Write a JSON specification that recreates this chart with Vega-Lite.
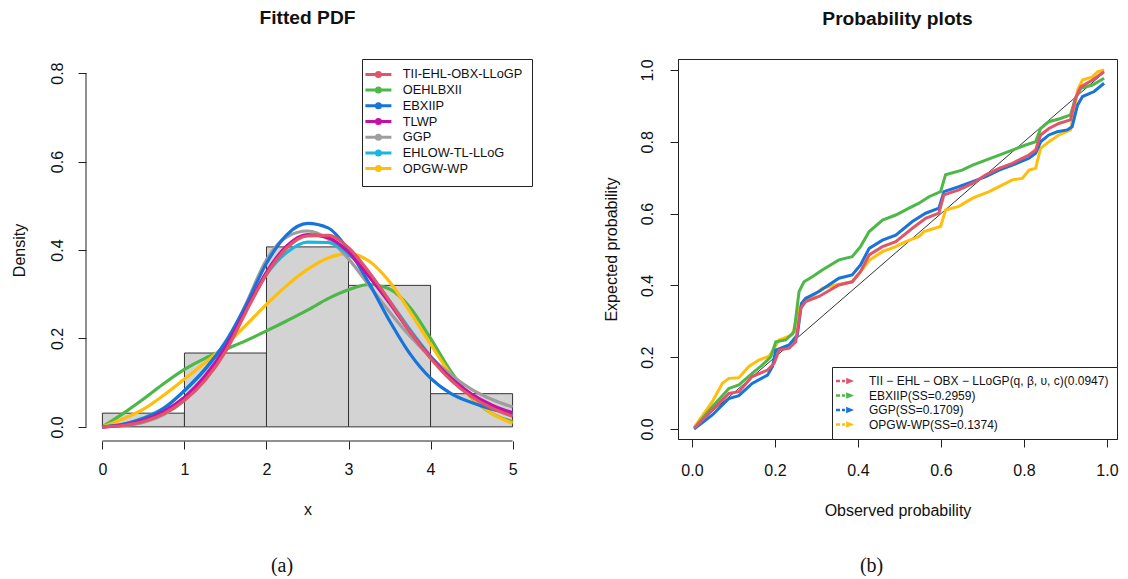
{
  "$schema": "https://vega.github.io/schema/vega-lite/v6.json",
  "background": "white",
  "padding": {"left": 11, "top": 9, "right": 5, "bottom": 0},
  "config": {
    "font": "Liberation Sans",
    "view": {"stroke": null},
    "axis": {"grid": false, "domainColor": "#222", "tickColor": "#222", "tickSize": 8, "labelFontSize": 16, "titleFontSize": 16, "titleFontWeight": "normal", "labelColor": "#111", "titleColor": "#111", "labelFont": "Liberation Sans", "titleFont": "Liberation Sans", "labelFlush": false, "labelOverlap": false},
    "axisX": {"labelPadding": 14, "titlePadding": 24},
    "axisY": {"labelAngle": -90, "labelAlign": "center", "labelBaseline": "middle", "labelPadding": 22, "titlePadding": 22},
    "title": {"font": "Liberation Sans", "color": "#111"},
    "legend": {"labelFont": "Liberation Sans", "labelColor": "#111", "strokeColor": "#222", "fillColor": "white", "labelLimit": 0}
  },
  "resolve": {"scale": {"color": "independent"}, "legend": {"color": "independent"}},
  "spacing": 69,
  "datasets": {
    "hist": [
      {"x0": 0, "x1": 1, "d": 0.031},
      {"x0": 1, "x1": 2, "d": 0.167},
      {"x0": 2, "x1": 3, "d": 0.407},
      {"x0": 3, "x1": 4, "d": 0.32},
      {"x0": 4, "x1": 5, "d": 0.075}
    ],
    "pdf": [
      {"m": "OEHLBXII", "x": 0, "y": 0}, {"m": "OEHLBXII", "x": 0.25, "y": 0.03}, {"m": "OEHLBXII", "x": 0.5, "y": 0.063}, {"m": "OEHLBXII", "x": 0.75, "y": 0.098}, {"m": "OEHLBXII", "x": 1, "y": 0.13}, {"m": "OEHLBXII", "x": 1.25, "y": 0.155}, {"m": "OEHLBXII", "x": 1.5, "y": 0.175}, {"m": "OEHLBXII", "x": 1.75, "y": 0.195}, {"m": "OEHLBXII", "x": 2, "y": 0.217}, {"m": "OEHLBXII", "x": 2.25, "y": 0.24}, {"m": "OEHLBXII", "x": 2.5, "y": 0.264}, {"m": "OEHLBXII", "x": 2.75, "y": 0.29}, {"m": "OEHLBXII", "x": 3, "y": 0.31}, {"m": "OEHLBXII", "x": 3.25, "y": 0.322}, {"m": "OEHLBXII", "x": 3.5, "y": 0.312}, {"m": "OEHLBXII", "x": 3.75, "y": 0.27}, {"m": "OEHLBXII", "x": 4, "y": 0.2}, {"m": "OEHLBXII", "x": 4.25, "y": 0.125}, {"m": "OEHLBXII", "x": 4.5, "y": 0.066}, {"m": "OEHLBXII", "x": 4.75, "y": 0.03}, {"m": "OEHLBXII", "x": 5, "y": 0.012},
      {"m": "OPGW-WP", "x": 0, "y": 0}, {"m": "OPGW-WP", "x": 0.25, "y": 0.018}, {"m": "OPGW-WP", "x": 0.5, "y": 0.04}, {"m": "OPGW-WP", "x": 0.75, "y": 0.072}, {"m": "OPGW-WP", "x": 1, "y": 0.108}, {"m": "OPGW-WP", "x": 1.25, "y": 0.145}, {"m": "OPGW-WP", "x": 1.5, "y": 0.185}, {"m": "OPGW-WP", "x": 1.75, "y": 0.23}, {"m": "OPGW-WP", "x": 2, "y": 0.277}, {"m": "OPGW-WP", "x": 2.25, "y": 0.32}, {"m": "OPGW-WP", "x": 2.5, "y": 0.356}, {"m": "OPGW-WP", "x": 2.75, "y": 0.382}, {"m": "OPGW-WP", "x": 3, "y": 0.392}, {"m": "OPGW-WP", "x": 3.25, "y": 0.375}, {"m": "OPGW-WP", "x": 3.5, "y": 0.328}, {"m": "OPGW-WP", "x": 3.75, "y": 0.26}, {"m": "OPGW-WP", "x": 4, "y": 0.187}, {"m": "OPGW-WP", "x": 4.25, "y": 0.118}, {"m": "OPGW-WP", "x": 4.5, "y": 0.066}, {"m": "OPGW-WP", "x": 4.75, "y": 0.03}, {"m": "OPGW-WP", "x": 5, "y": 0.008},
      {"m": "GGP", "x": 0, "y": 0}, {"m": "GGP", "x": 0.25, "y": 0.003}, {"m": "GGP", "x": 0.5, "y": 0.01}, {"m": "GGP", "x": 0.75, "y": 0.028}, {"m": "GGP", "x": 1, "y": 0.06}, {"m": "GGP", "x": 1.25, "y": 0.11}, {"m": "GGP", "x": 1.5, "y": 0.182}, {"m": "GGP", "x": 1.75, "y": 0.278}, {"m": "GGP", "x": 2, "y": 0.378}, {"m": "GGP", "x": 2.25, "y": 0.43}, {"m": "GGP", "x": 2.5, "y": 0.443}, {"m": "GGP", "x": 2.75, "y": 0.425}, {"m": "GGP", "x": 3, "y": 0.38}, {"m": "GGP", "x": 3.25, "y": 0.32}, {"m": "GGP", "x": 3.5, "y": 0.26}, {"m": "GGP", "x": 3.75, "y": 0.205}, {"m": "GGP", "x": 4, "y": 0.158}, {"m": "GGP", "x": 4.25, "y": 0.118}, {"m": "GGP", "x": 4.5, "y": 0.085}, {"m": "GGP", "x": 4.75, "y": 0.062}, {"m": "GGP", "x": 5, "y": 0.045},
      {"m": "EHLOW-TL-LLoG", "x": 0, "y": 0}, {"m": "EHLOW-TL-LLoG", "x": 0.25, "y": 0.006}, {"m": "EHLOW-TL-LLoG", "x": 0.5, "y": 0.02}, {"m": "EHLOW-TL-LLoG", "x": 0.75, "y": 0.043}, {"m": "EHLOW-TL-LLoG", "x": 1, "y": 0.082}, {"m": "EHLOW-TL-LLoG", "x": 1.25, "y": 0.13}, {"m": "EHLOW-TL-LLoG", "x": 1.5, "y": 0.19}, {"m": "EHLOW-TL-LLoG", "x": 1.75, "y": 0.265}, {"m": "EHLOW-TL-LLoG", "x": 2, "y": 0.345}, {"m": "EHLOW-TL-LLoG", "x": 2.25, "y": 0.395}, {"m": "EHLOW-TL-LLoG", "x": 2.5, "y": 0.418}, {"m": "EHLOW-TL-LLoG", "x": 2.75, "y": 0.417}, {"m": "EHLOW-TL-LLoG", "x": 3, "y": 0.39}, {"m": "EHLOW-TL-LLoG", "x": 3.25, "y": 0.345}, {"m": "EHLOW-TL-LLoG", "x": 3.5, "y": 0.285}, {"m": "EHLOW-TL-LLoG", "x": 3.75, "y": 0.22}, {"m": "EHLOW-TL-LLoG", "x": 4, "y": 0.16}, {"m": "EHLOW-TL-LLoG", "x": 4.25, "y": 0.11}, {"m": "EHLOW-TL-LLoG", "x": 4.5, "y": 0.072}, {"m": "EHLOW-TL-LLoG", "x": 4.75, "y": 0.046}, {"m": "EHLOW-TL-LLoG", "x": 5, "y": 0.029},
      {"m": "EBXIIP", "x": 0, "y": 0}, {"m": "EBXIIP", "x": 0.25, "y": 0.006}, {"m": "EBXIIP", "x": 0.5, "y": 0.019}, {"m": "EBXIIP", "x": 0.75, "y": 0.042}, {"m": "EBXIIP", "x": 1, "y": 0.082}, {"m": "EBXIIP", "x": 1.25, "y": 0.13}, {"m": "EBXIIP", "x": 1.5, "y": 0.192}, {"m": "EBXIIP", "x": 1.75, "y": 0.275}, {"m": "EBXIIP", "x": 2, "y": 0.37}, {"m": "EBXIIP", "x": 2.25, "y": 0.435}, {"m": "EBXIIP", "x": 2.5, "y": 0.46}, {"m": "EBXIIP", "x": 2.75, "y": 0.45}, {"m": "EBXIIP", "x": 3, "y": 0.4}, {"m": "EBXIIP", "x": 3.25, "y": 0.325}, {"m": "EBXIIP", "x": 3.5, "y": 0.24}, {"m": "EBXIIP", "x": 3.75, "y": 0.165}, {"m": "EBXIIP", "x": 4, "y": 0.11}, {"m": "EBXIIP", "x": 4.25, "y": 0.075}, {"m": "EBXIIP", "x": 4.5, "y": 0.055}, {"m": "EBXIIP", "x": 4.75, "y": 0.04}, {"m": "EBXIIP", "x": 5, "y": 0.03},
      {"m": "TLWP", "x": 0, "y": 0}, {"m": "TLWP", "x": 0.25, "y": 0.004}, {"m": "TLWP", "x": 0.5, "y": 0.015}, {"m": "TLWP", "x": 0.75, "y": 0.035}, {"m": "TLWP", "x": 1, "y": 0.067}, {"m": "TLWP", "x": 1.25, "y": 0.115}, {"m": "TLWP", "x": 1.5, "y": 0.18}, {"m": "TLWP", "x": 1.75, "y": 0.265}, {"m": "TLWP", "x": 2, "y": 0.35}, {"m": "TLWP", "x": 2.25, "y": 0.41}, {"m": "TLWP", "x": 2.5, "y": 0.435}, {"m": "TLWP", "x": 2.75, "y": 0.428}, {"m": "TLWP", "x": 3, "y": 0.395}, {"m": "TLWP", "x": 3.25, "y": 0.34}, {"m": "TLWP", "x": 3.5, "y": 0.28}, {"m": "TLWP", "x": 3.75, "y": 0.215}, {"m": "TLWP", "x": 4, "y": 0.158}, {"m": "TLWP", "x": 4.25, "y": 0.11}, {"m": "TLWP", "x": 4.5, "y": 0.074}, {"m": "TLWP", "x": 4.75, "y": 0.049}, {"m": "TLWP", "x": 5, "y": 0.032},
      {"m": "TII-EHL-OBX-LLoGP", "x": 0, "y": 0}, {"m": "TII-EHL-OBX-LLoGP", "x": 0.25, "y": 0.003}, {"m": "TII-EHL-OBX-LLoGP", "x": 0.5, "y": 0.012}, {"m": "TII-EHL-OBX-LLoGP", "x": 0.75, "y": 0.03}, {"m": "TII-EHL-OBX-LLoGP", "x": 1, "y": 0.06}, {"m": "TII-EHL-OBX-LLoGP", "x": 1.25, "y": 0.105}, {"m": "TII-EHL-OBX-LLoGP", "x": 1.5, "y": 0.17}, {"m": "TII-EHL-OBX-LLoGP", "x": 1.75, "y": 0.26}, {"m": "TII-EHL-OBX-LLoGP", "x": 2, "y": 0.345}, {"m": "TII-EHL-OBX-LLoGP", "x": 2.25, "y": 0.405}, {"m": "TII-EHL-OBX-LLoGP", "x": 2.5, "y": 0.432}, {"m": "TII-EHL-OBX-LLoGP", "x": 2.75, "y": 0.433}, {"m": "TII-EHL-OBX-LLoGP", "x": 3, "y": 0.405}, {"m": "TII-EHL-OBX-LLoGP", "x": 3.25, "y": 0.35}, {"m": "TII-EHL-OBX-LLoGP", "x": 3.5, "y": 0.285}, {"m": "TII-EHL-OBX-LLoGP", "x": 3.75, "y": 0.215}, {"m": "TII-EHL-OBX-LLoGP", "x": 4, "y": 0.155}, {"m": "TII-EHL-OBX-LLoGP", "x": 4.25, "y": 0.105}, {"m": "TII-EHL-OBX-LLoGP", "x": 4.5, "y": 0.068}, {"m": "TII-EHL-OBX-LLoGP", "x": 4.75, "y": 0.042}, {"m": "TII-EHL-OBX-LLoGP", "x": 5, "y": 0.024}
    ],
    "diag": [{"x": 0.008, "y": 0.008}, {"x": 0.992, "y": 0.992}],
    "pp": [
      {"m": "OPGW-WP(SS=0.1374)", "x": 0.005, "y": 0.004}, {"m": "OPGW-WP(SS=0.1374)", "x": 0.049, "y": 0.076}, {"m": "OPGW-WP(SS=0.1374)", "x": 0.073, "y": 0.127}, {"m": "OPGW-WP(SS=0.1374)", "x": 0.089, "y": 0.141}, {"m": "OPGW-WP(SS=0.1374)", "x": 0.113, "y": 0.143}, {"m": "OPGW-WP(SS=0.1374)", "x": 0.137, "y": 0.174}, {"m": "OPGW-WP(SS=0.1374)", "x": 0.161, "y": 0.192}, {"m": "OPGW-WP(SS=0.1374)", "x": 0.186, "y": 0.203}, {"m": "OPGW-WP(SS=0.1374)", "x": 0.198, "y": 0.225}, {"m": "OPGW-WP(SS=0.1374)", "x": 0.21, "y": 0.248}, {"m": "OPGW-WP(SS=0.1374)", "x": 0.242, "y": 0.262}, {"m": "OPGW-WP(SS=0.1374)", "x": 0.258, "y": 0.336}, {"m": "OPGW-WP(SS=0.1374)", "x": 0.27, "y": 0.359}, {"m": "OPGW-WP(SS=0.1374)", "x": 0.29, "y": 0.369}, {"m": "OPGW-WP(SS=0.1374)", "x": 0.314, "y": 0.392}, {"m": "OPGW-WP(SS=0.1374)", "x": 0.346, "y": 0.401}, {"m": "OPGW-WP(SS=0.1374)", "x": 0.386, "y": 0.41}, {"m": "OPGW-WP(SS=0.1374)", "x": 0.406, "y": 0.438}, {"m": "OPGW-WP(SS=0.1374)", "x": 0.427, "y": 0.47}, {"m": "OPGW-WP(SS=0.1374)", "x": 0.459, "y": 0.494}, {"m": "OPGW-WP(SS=0.1374)", "x": 0.491, "y": 0.508}, {"m": "OPGW-WP(SS=0.1374)", "x": 0.515, "y": 0.522}, {"m": "OPGW-WP(SS=0.1374)", "x": 0.547, "y": 0.536}, {"m": "OPGW-WP(SS=0.1374)", "x": 0.559, "y": 0.55}, {"m": "OPGW-WP(SS=0.1374)", "x": 0.599, "y": 0.564}, {"m": "OPGW-WP(SS=0.1374)", "x": 0.611, "y": 0.61}, {"m": "OPGW-WP(SS=0.1374)", "x": 0.643, "y": 0.62}, {"m": "OPGW-WP(SS=0.1374)", "x": 0.676, "y": 0.643}, {"m": "OPGW-WP(SS=0.1374)", "x": 0.716, "y": 0.661}, {"m": "OPGW-WP(SS=0.1374)", "x": 0.74, "y": 0.675}, {"m": "OPGW-WP(SS=0.1374)", "x": 0.772, "y": 0.694}, {"m": "OPGW-WP(SS=0.1374)", "x": 0.796, "y": 0.698}, {"m": "OPGW-WP(SS=0.1374)", "x": 0.812, "y": 0.721}, {"m": "OPGW-WP(SS=0.1374)", "x": 0.828, "y": 0.726}, {"m": "OPGW-WP(SS=0.1374)", "x": 0.84, "y": 0.782}, {"m": "OPGW-WP(SS=0.1374)", "x": 0.86, "y": 0.8}, {"m": "OPGW-WP(SS=0.1374)", "x": 0.884, "y": 0.819}, {"m": "OPGW-WP(SS=0.1374)", "x": 0.912, "y": 0.833}, {"m": "OPGW-WP(SS=0.1374)", "x": 0.92, "y": 0.875}, {"m": "OPGW-WP(SS=0.1374)", "x": 0.929, "y": 0.944}, {"m": "OPGW-WP(SS=0.1374)", "x": 0.941, "y": 0.972}, {"m": "OPGW-WP(SS=0.1374)", "x": 0.965, "y": 0.981}, {"m": "OPGW-WP(SS=0.1374)", "x": 0.977, "y": 0.995}, {"m": "OPGW-WP(SS=0.1374)", "x": 0.993, "y": 1.0},
      {"m": "EBXIIP(SS=0.2959)", "x": 0.007, "y": 0.004}, {"m": "EBXIIP(SS=0.2959)", "x": 0.049, "y": 0.062}, {"m": "EBXIIP(SS=0.2959)", "x": 0.089, "y": 0.113}, {"m": "EBXIIP(SS=0.2959)", "x": 0.113, "y": 0.123}, {"m": "EBXIIP(SS=0.2959)", "x": 0.145, "y": 0.155}, {"m": "EBXIIP(SS=0.2959)", "x": 0.169, "y": 0.178}, {"m": "EBXIIP(SS=0.2959)", "x": 0.19, "y": 0.201}, {"m": "EBXIIP(SS=0.2959)", "x": 0.202, "y": 0.243}, {"m": "EBXIIP(SS=0.2959)", "x": 0.226, "y": 0.248}, {"m": "EBXIIP(SS=0.2959)", "x": 0.246, "y": 0.271}, {"m": "EBXIIP(SS=0.2959)", "x": 0.258, "y": 0.383}, {"m": "EBXIIP(SS=0.2959)", "x": 0.27, "y": 0.41}, {"m": "EBXIIP(SS=0.2959)", "x": 0.29, "y": 0.424}, {"m": "EBXIIP(SS=0.2959)", "x": 0.314, "y": 0.443}, {"m": "EBXIIP(SS=0.2959)", "x": 0.354, "y": 0.471}, {"m": "EBXIIP(SS=0.2959)", "x": 0.386, "y": 0.48}, {"m": "EBXIIP(SS=0.2959)", "x": 0.406, "y": 0.508}, {"m": "EBXIIP(SS=0.2959)", "x": 0.427, "y": 0.55}, {"m": "EBXIIP(SS=0.2959)", "x": 0.459, "y": 0.582}, {"m": "EBXIIP(SS=0.2959)", "x": 0.491, "y": 0.596}, {"m": "EBXIIP(SS=0.2959)", "x": 0.523, "y": 0.615}, {"m": "EBXIIP(SS=0.2959)", "x": 0.547, "y": 0.629}, {"m": "EBXIIP(SS=0.2959)", "x": 0.571, "y": 0.647}, {"m": "EBXIIP(SS=0.2959)", "x": 0.599, "y": 0.661}, {"m": "EBXIIP(SS=0.2959)", "x": 0.611, "y": 0.708}, {"m": "EBXIIP(SS=0.2959)", "x": 0.651, "y": 0.721}, {"m": "EBXIIP(SS=0.2959)", "x": 0.676, "y": 0.735}, {"m": "EBXIIP(SS=0.2959)", "x": 0.708, "y": 0.749}, {"m": "EBXIIP(SS=0.2959)", "x": 0.74, "y": 0.763}, {"m": "EBXIIP(SS=0.2959)", "x": 0.772, "y": 0.777}, {"m": "EBXIIP(SS=0.2959)", "x": 0.804, "y": 0.791}, {"m": "EBXIIP(SS=0.2959)", "x": 0.828, "y": 0.8}, {"m": "EBXIIP(SS=0.2959)", "x": 0.84, "y": 0.837}, {"m": "EBXIIP(SS=0.2959)", "x": 0.86, "y": 0.856}, {"m": "EBXIIP(SS=0.2959)", "x": 0.888, "y": 0.865}, {"m": "EBXIIP(SS=0.2959)", "x": 0.912, "y": 0.875}, {"m": "EBXIIP(SS=0.2959)", "x": 0.924, "y": 0.921}, {"m": "EBXIIP(SS=0.2959)", "x": 0.937, "y": 0.949}, {"m": "EBXIIP(SS=0.2959)", "x": 0.965, "y": 0.958}, {"m": "EBXIIP(SS=0.2959)", "x": 0.993, "y": 0.977},
      {"m": "GGP(SS=0.1709)", "x": 0.005, "y": 0.0}, {"m": "GGP(SS=0.1709)", "x": 0.049, "y": 0.039}, {"m": "GGP(SS=0.1709)", "x": 0.089, "y": 0.085}, {"m": "GGP(SS=0.1709)", "x": 0.113, "y": 0.093}, {"m": "GGP(SS=0.1709)", "x": 0.145, "y": 0.127}, {"m": "GGP(SS=0.1709)", "x": 0.182, "y": 0.15}, {"m": "GGP(SS=0.1709)", "x": 0.194, "y": 0.174}, {"m": "GGP(SS=0.1709)", "x": 0.202, "y": 0.22}, {"m": "GGP(SS=0.1709)", "x": 0.234, "y": 0.234}, {"m": "GGP(SS=0.1709)", "x": 0.254, "y": 0.262}, {"m": "GGP(SS=0.1709)", "x": 0.264, "y": 0.35}, {"m": "GGP(SS=0.1709)", "x": 0.274, "y": 0.364}, {"m": "GGP(SS=0.1709)", "x": 0.306, "y": 0.383}, {"m": "GGP(SS=0.1709)", "x": 0.354, "y": 0.42}, {"m": "GGP(SS=0.1709)", "x": 0.386, "y": 0.429}, {"m": "GGP(SS=0.1709)", "x": 0.406, "y": 0.457}, {"m": "GGP(SS=0.1709)", "x": 0.427, "y": 0.503}, {"m": "GGP(SS=0.1709)", "x": 0.459, "y": 0.526}, {"m": "GGP(SS=0.1709)", "x": 0.491, "y": 0.54}, {"m": "GGP(SS=0.1709)", "x": 0.531, "y": 0.578}, {"m": "GGP(SS=0.1709)", "x": 0.563, "y": 0.601}, {"m": "GGP(SS=0.1709)", "x": 0.595, "y": 0.615}, {"m": "GGP(SS=0.1709)", "x": 0.607, "y": 0.661}, {"m": "GGP(SS=0.1709)", "x": 0.643, "y": 0.675}, {"m": "GGP(SS=0.1709)", "x": 0.676, "y": 0.689}, {"m": "GGP(SS=0.1709)", "x": 0.708, "y": 0.703}, {"m": "GGP(SS=0.1709)", "x": 0.74, "y": 0.721}, {"m": "GGP(SS=0.1709)", "x": 0.772, "y": 0.735}, {"m": "GGP(SS=0.1709)", "x": 0.812, "y": 0.754}, {"m": "GGP(SS=0.1709)", "x": 0.828, "y": 0.768}, {"m": "GGP(SS=0.1709)", "x": 0.84, "y": 0.8}, {"m": "GGP(SS=0.1709)", "x": 0.86, "y": 0.819}, {"m": "GGP(SS=0.1709)", "x": 0.88, "y": 0.828}, {"m": "GGP(SS=0.1709)", "x": 0.904, "y": 0.833}, {"m": "GGP(SS=0.1709)", "x": 0.916, "y": 0.842}, {"m": "GGP(SS=0.1709)", "x": 0.929, "y": 0.902}, {"m": "GGP(SS=0.1709)", "x": 0.941, "y": 0.926}, {"m": "GGP(SS=0.1709)", "x": 0.969, "y": 0.94}, {"m": "GGP(SS=0.1709)", "x": 0.993, "y": 0.963},
      {"m": "TII − EHL − OBX − LLoGP(q, β, υ, c)(0.0947)", "x": 0.006, "y": 0.002}, {"m": "TII − EHL − OBX − LLoGP(q, β, υ, c)(0.0947)", "x": 0.049, "y": 0.053}, {"m": "TII − EHL − OBX − LLoGP(q, β, υ, c)(0.0947)", "x": 0.089, "y": 0.099}, {"m": "TII − EHL − OBX − LLoGP(q, β, υ, c)(0.0947)", "x": 0.113, "y": 0.104}, {"m": "TII − EHL − OBX − LLoGP(q, β, υ, c)(0.0947)", "x": 0.145, "y": 0.146}, {"m": "TII − EHL − OBX − LLoGP(q, β, υ, c)(0.0947)", "x": 0.182, "y": 0.164}, {"m": "TII − EHL − OBX − LLoGP(q, β, υ, c)(0.0947)", "x": 0.198, "y": 0.183}, {"m": "TII − EHL − OBX − LLoGP(q, β, υ, c)(0.0947)", "x": 0.21, "y": 0.22}, {"m": "TII − EHL − OBX − LLoGP(q, β, υ, c)(0.0947)", "x": 0.234, "y": 0.225}, {"m": "TII − EHL − OBX − LLoGP(q, β, υ, c)(0.0947)", "x": 0.25, "y": 0.243}, {"m": "TII − EHL − OBX − LLoGP(q, β, υ, c)(0.0947)", "x": 0.262, "y": 0.336}, {"m": "TII − EHL − OBX − LLoGP(q, β, υ, c)(0.0947)", "x": 0.274, "y": 0.355}, {"m": "TII − EHL − OBX − LLoGP(q, β, υ, c)(0.0947)", "x": 0.306, "y": 0.369}, {"m": "TII − EHL − OBX − LLoGP(q, β, υ, c)(0.0947)", "x": 0.354, "y": 0.401}, {"m": "TII − EHL − OBX − LLoGP(q, β, υ, c)(0.0947)", "x": 0.386, "y": 0.41}, {"m": "TII − EHL − OBX − LLoGP(q, β, υ, c)(0.0947)", "x": 0.406, "y": 0.438}, {"m": "TII − EHL − OBX − LLoGP(q, β, υ, c)(0.0947)", "x": 0.427, "y": 0.485}, {"m": "TII − EHL − OBX − LLoGP(q, β, υ, c)(0.0947)", "x": 0.459, "y": 0.508}, {"m": "TII − EHL − OBX − LLoGP(q, β, υ, c)(0.0947)", "x": 0.491, "y": 0.522}, {"m": "TII − EHL − OBX − LLoGP(q, β, υ, c)(0.0947)", "x": 0.531, "y": 0.559}, {"m": "TII − EHL − OBX − LLoGP(q, β, υ, c)(0.0947)", "x": 0.563, "y": 0.587}, {"m": "TII − EHL − OBX − LLoGP(q, β, υ, c)(0.0947)", "x": 0.595, "y": 0.601}, {"m": "TII − EHL − OBX − LLoGP(q, β, υ, c)(0.0947)", "x": 0.607, "y": 0.652}, {"m": "TII − EHL − OBX − LLoGP(q, β, υ, c)(0.0947)", "x": 0.643, "y": 0.666}, {"m": "TII − EHL − OBX − LLoGP(q, β, υ, c)(0.0947)", "x": 0.676, "y": 0.684}, {"m": "TII − EHL − OBX − LLoGP(q, β, υ, c)(0.0947)", "x": 0.708, "y": 0.708}, {"m": "TII − EHL − OBX − LLoGP(q, β, υ, c)(0.0947)", "x": 0.74, "y": 0.726}, {"m": "TII − EHL − OBX − LLoGP(q, β, υ, c)(0.0947)", "x": 0.772, "y": 0.74}, {"m": "TII − EHL − OBX − LLoGP(q, β, υ, c)(0.0947)", "x": 0.812, "y": 0.763}, {"m": "TII − EHL − OBX − LLoGP(q, β, υ, c)(0.0947)", "x": 0.828, "y": 0.777}, {"m": "TII − EHL − OBX − LLoGP(q, β, υ, c)(0.0947)", "x": 0.84, "y": 0.819}, {"m": "TII − EHL − OBX − LLoGP(q, β, υ, c)(0.0947)", "x": 0.86, "y": 0.837}, {"m": "TII − EHL − OBX − LLoGP(q, β, υ, c)(0.0947)", "x": 0.884, "y": 0.851}, {"m": "TII − EHL − OBX − LLoGP(q, β, υ, c)(0.0947)", "x": 0.912, "y": 0.861}, {"m": "TII − EHL − OBX − LLoGP(q, β, υ, c)(0.0947)", "x": 0.924, "y": 0.921}, {"m": "TII − EHL − OBX − LLoGP(q, β, υ, c)(0.0947)", "x": 0.937, "y": 0.953}, {"m": "TII − EHL − OBX − LLoGP(q, β, υ, c)(0.0947)", "x": 0.965, "y": 0.972}, {"m": "TII − EHL − OBX − LLoGP(q, β, υ, c)(0.0947)", "x": 0.993, "y": 0.995}
    ]
  },
  "hconcat": [
    {
      "title": {"text": "(a)", "orient": "bottom", "font": "Liberation Serif", "fontSize": 20, "fontWeight": "normal", "offset": 39, "dx": 10, "anchor": "middle", "color": "#111"},
      "resolve": {"scale": {"color": "independent"}, "legend": {"color": "independent"}},
      "vconcat": [
        {
          "title": {"text": "Fitted PDF", "fontSize": 19.2, "fontWeight": "bold", "offset": 30, "anchor": "middle", "frame": "group"},
          "width": 443,
          "height": 382,
          "layer": [
            {
              "data": {"name": "hist"},
              "mark": {"type": "rect", "fill": "#D3D3D3", "stroke": "#333333", "strokeWidth": 1},
              "encoding": {
                "x": {"field": "x0", "type": "quantitative", "scale": {"domain": [-0.2, 5.2], "nice": false, "zero": false}, "axis": {"title": "x", "values": [0, 1, 2, 3, 4, 5], "format": "d", "domain": false, "labelPadding": 12}},
                "x2": {"field": "x1"},
                "y": {"field": "d", "type": "quantitative", "scale": {"domain": [-0.032, 0.832], "nice": false, "zero": false}, "axis": {"title": "Density", "values": [0, 0.2, 0.4, 0.6, 0.8], "format": ".1f", "domain": false, "labelPadding": 21, "titlePadding": 21.5}},
                "y2": {"datum": 0}
              }
            },
            {
              "data": {"values": [{}]},
              "mark": {"type": "rule", "color": "#222", "strokeWidth": 1},
              "encoding": {"x": {"datum": 0}, "x2": {"datum": 5}, "y": {"datum": -0.032}}
            },
            {
              "data": {"values": [{}]},
              "mark": {"type": "rule", "color": "#222", "strokeWidth": 1},
              "encoding": {"x": {"datum": -0.2}, "y": {"datum": 0}, "y2": {"datum": 0.8}}
            },
            {
              "data": {"name": "pdf"},
              "mark": {"type": "line", "strokeWidth": 3.2, "interpolate": "monotone"},
              "encoding": {
                "x": {"field": "x", "type": "quantitative"},
                "y": {"field": "y", "type": "quantitative"},
                "color": {
                  "field": "m", "type": "nominal",
                  "scale": {"domain": ["TII-EHL-OBX-LLoGP", "OEHLBXII", "EBXIIP", "TLWP", "GGP", "EHLOW-TL-LLoG", "OPGW-WP"], "range": ["#E05569", "#4DB848", "#1774DB", "#C70FA6", "#9E9E9E", "#19B6DD", "#FFBE0A"]},
                  "legend": {"title": null, "orient": "none", "legendX": 276, "legendY": 0, "symbolType": "M-3.25,0H3.25M-0.5,0A0.5,0.5 0 1,0 0.5,0A0.5,0.5 0 1,0 -0.5,0", "symbolSize": 64, "symbolStrokeWidth": 3, "labelFontSize": 12.8, "rowPadding": -1.3, "padding": 9, "labelOffset": 18, "symbolOffset": 1}
                }
              }
            }
          ]
        }
      ]
    },
    {
      "title": {"text": "(b)", "orient": "bottom", "font": "Liberation Serif", "fontSize": 20, "fontWeight": "normal", "offset": 37, "dx": 11, "anchor": "middle", "color": "#111"},
      "resolve": {"scale": {"color": "independent"}, "legend": {"color": "independent"}},
      "vconcat": [
        {
          "title": {"text": "Probability plots", "fontSize": 19.2, "fontWeight": "bold", "offset": 30, "anchor": "middle", "frame": "group"},
          "width": 439,
          "height": 380,
          "view": {"stroke": "#222", "strokeWidth": 1},
          "layer": [
            {
              "data": {"name": "diag"},
              "mark": {"type": "line", "color": "#333", "strokeWidth": 1},
              "encoding": {
                "x": {"field": "x", "type": "quantitative", "scale": {"domain": [-0.0337, 1.0241], "nice": false, "zero": false}, "axis": {"title": "Observed probability", "values": [0, 0.2, 0.4, 0.6, 0.8, 1], "format": ".1f", "labelPadding": 15, "titlePadding": 24}},
                "y": {"field": "y", "type": "quantitative", "scale": {"domain": [-0.0279, 1.0306], "nice": false, "zero": false}, "axis": {"title": "Expected probability", "values": [0, 0.2, 0.4, 0.6, 0.8, 1], "format": ".1f", "labelPadding": 23, "titlePadding": 20}}
              }
            },
            {
              "data": {"name": "pp"},
              "mark": {"type": "line", "strokeWidth": 3},
              "encoding": {
                "x": {"field": "x", "type": "quantitative"},
                "y": {"field": "y", "type": "quantitative"},
                "color": {
                  "field": "m", "type": "nominal",
                  "scale": {"domain": ["TII − EHL − OBX − LLoGP(q, β, υ, c)(0.0947)", "EBXIIP(SS=0.2959)", "GGP(SS=0.1709)", "OPGW-WP(SS=0.1374)"], "range": ["#E05569", "#4DB848", "#1774DB", "#FFBE0A"]},
                  "legend": {"title": null, "orient": "bottom-right", "offset": 0, "symbolType": "M-2,0H-1M-0.5,0H0.25M0.85,-0.35L1.7,0L0.85,0.35Z", "symbolSize": 64, "symbolStrokeWidth": 2.5, "labelFontSize": 12, "rowPadding": 0.5, "padding": 8, "labelOffset": 19, "symbolOffset": -2}
                }
              }
            }
          ]
        }
      ]
    }
  ]
}
